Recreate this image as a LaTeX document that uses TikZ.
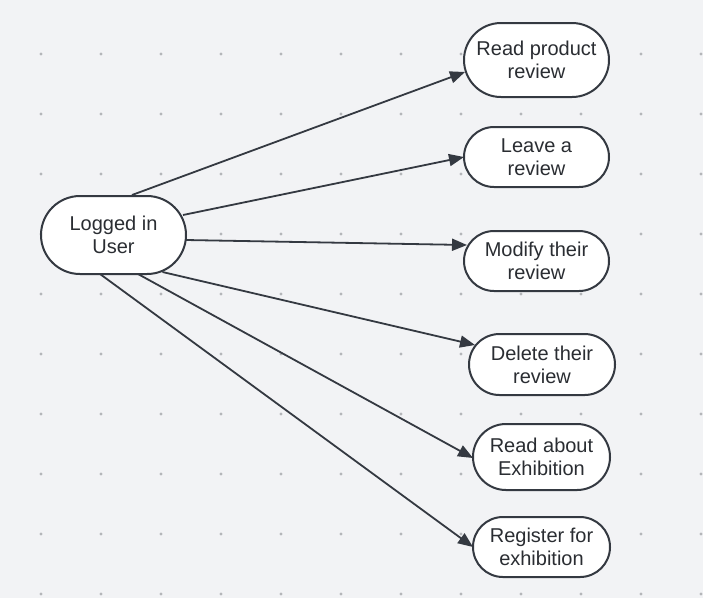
\documentclass[tikz,border=0pt]{standalone}
\usepackage{fontspec}
\setmainfont{Liberation Sans}
\usetikzlibrary{arrows.meta,calc,shapes.misc}
\definecolor{bg}{HTML}{F2F3F5}
\definecolor{dotc}{HTML}{B4B6B9}
\definecolor{ink}{HTML}{343941}
\definecolor{txt}{HTML}{2A2D32}
\tikzset{
  pill/.style={draw=ink, line width=2pt, fill=white, rounded rectangle, inner sep=0pt,
    minimum width=#1, align=center, text=txt,
    font=\fontsize{20pt}{23pt}\selectfont},
  conn/.style={draw=ink, line width=1.8pt, -{Triangle[length=15pt,width=12pt]}},
}
\begin{document}
\begin{tikzpicture}[x=1pt,y=1pt]
\fill[bg] (0,0) rectangle (703,-598);
\useasboundingbox (0,0) rectangle (703,-598);
\foreach \i in {0,...,11}{
  \foreach \j in {0,...,9}{
    \fill[dotc] (41+60*\i,-54-60*\j) circle (1.6);
  }
}
\node[pill=145pt, minimum height=78pt] (main) at (113.5,-235) {Logged in\\User};
\node[pill=145pt, minimum height=74pt] (n1) at (536.5,-60) {Read product\\review};
\node[pill=145pt, minimum height=60pt] (n2) at (536.5,-157) {Leave a\\review};
\node[pill=145pt, minimum height=60pt] (n3) at (536.5,-261) {Modify their\\review};
\node[pill=146pt, minimum height=61pt] (n4) at (542,-364.5) {Delete their\\review};
\node[pill=137pt, minimum height=66pt] (n5) at (541.5,-457) {Read about\\Exhibition};
\node[pill=137pt, minimum height=60pt] (n6) at (541.5,-547) {Register for\\exhibition};
\draw[conn] ($(main.center)+(18.5,40)$) -- ($(n1.center)+(-71.5,-12)$);
\draw[conn] ($(main.center)+(69.5,20)$) -- ($(n2.center)+(-72.5,0)$);
\draw[conn] ($(main.center)+(72.5,-5)$) -- ($(n3.center)+(-69.5,16)$);
\draw[conn] ($(main.center)+(49,-37)$) -- ($(n4.center)+(-67,19.5)$);
\draw[conn] ($(main.center)+(24.5,-39)$) -- ($(n5.center)+(-68.5,-1)$);
\draw[conn] ($(main.center)+(-13.5,-39)$) -- ($(n6.center)+(-68.5,0)$);
\end{tikzpicture}
\end{document}
